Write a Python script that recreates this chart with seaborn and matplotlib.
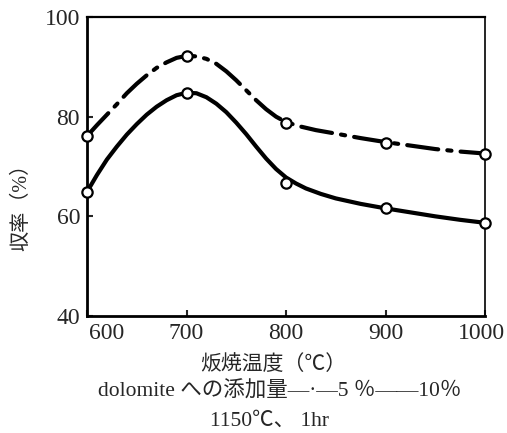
import matplotlib
matplotlib.use("Agg")
import matplotlib.pyplot as plt
import matplotlib.transforms as mtransforms
import seaborn as sns
import pandas as pd

# measured points
temps = [600, 700, 800, 900, 1000]
yield_5 = [76.1, 92.1, 78.8, 74.8, 72.6]
yield_10 = [64.9, 84.8, 66.7, 61.7, 58.7]

# smooth drawn curves
curve5_x = [600, 610, 620, 630, 640, 650, 660, 670, 680, 690, 700, 710, 720, 730, 740,
            750, 760, 770, 780, 790, 800, 815, 830, 850, 875, 900, 925, 950, 975, 1000]
curve5_y = [76.1, 78.3, 80.4, 82.5, 84.7, 86.6, 88.3, 89.8, 90.9, 91.8, 92.2, 92.1, 91.6,
            90.6, 89.1, 87.3, 85.3, 83.3, 81.5, 80.0, 78.9, 78.0, 77.3, 76.6, 75.7, 74.9,
            74.2, 73.5, 73.0, 72.6]
curve10_x = [600, 610, 620, 630, 640, 650, 660, 670, 680, 690, 700, 710, 720, 730, 740,
             750, 760, 770, 780, 790, 800, 810, 820, 835, 850, 875, 900, 925, 950, 975, 1000]
curve10_y = [64.9, 68.3, 71.4, 74.0, 76.4, 78.5, 80.4, 82.0, 83.3, 84.3, 84.8, 84.7, 83.9,
             82.6, 80.9, 78.8, 76.5, 74.0, 71.6, 69.5, 67.8, 66.6, 65.6, 64.5, 63.6, 62.5,
             61.6, 60.8, 60.0, 59.3, 58.7]

xticks = [600, 700, 800, 900, 1000]
yticks = [40, 60, 80, 100]

sns.set_theme(style="white")
plt.rcParams['font.family'] = ['Liberation Serif', 'Noto Sans CJK JP']

fig = plt.figure(figsize=(5.07, 4.33), dpi=100)
ax = fig.add_axes([87/507, 1-316/433, (485-87)/507, (316-17)/433])

c5 = pd.DataFrame({"x": curve5_x, "y": curve5_y})
c10 = pd.DataFrame({"x": curve10_x, "y": curve10_y})
sns.lineplot(data=c5, x="x", y="y", ax=ax, color="black", lw=3.0, sort=False,
             estimator=None, linestyle=(0, (7.5, 2.2, 1.0, 2.2)), clip_on=False,
             dash_capstyle="round", dash_joinstyle="round")
sns.lineplot(data=c10, x="x", y="y", ax=ax, color="black", lw=3.0, sort=False,
             estimator=None, clip_on=False, solid_joinstyle="round")

pts = pd.DataFrame({"x": temps + temps, "y": yield_5 + yield_10})
sns.scatterplot(data=pts, x="x", y="y", ax=ax, marker="o", s=55, facecolor="white",
                edgecolor="black", linewidth=1.6, zorder=5, clip_on=False)

ax.set_xlim(600, 1000)
ax.set_ylim(40, 100)
ax.set_xticks(xticks)
ax.set_yticks(yticks)
ax.set_xticklabels([str(t) for t in xticks], fontsize=17)
ax.set_yticklabels([str(t) for t in yticks], fontsize=17)
ax.tick_params(axis="both", direction="in", length=4, width=1.5, pad=5)
ax.tick_params(axis="y", left=True)
ax.tick_params(axis="x", bottom=True)
ax.set_xlabel("")
ax.set_ylabel("")

# shift the "600" and "1000" labels as in the reference
labs = ax.get_xticklabels()
labs[0].set_transform(labs[0].get_transform() + mtransforms.ScaledTranslation(20/100, 0, fig.dpi_scale_trans))
labs[-1].set_transform(labs[-1].get_transform() + mtransforms.ScaledTranslation(-4/100, 0, fig.dpi_scale_trans))

for side, w in [("left", 2.0), ("bottom", 2.0), ("top", 1.6), ("right", 1.2)]:
    ax.spines[side].set_visible(True)
    ax.spines[side].set_color("black")
    ax.spines[side].set_linewidth(w)

fam = ['Liberation Serif', 'Noto Sans CJK JP']
fig.text(22/507, 1-202/433, "収率（%）", rotation=90, ha="center", va="center",
         fontsize=14.5, family=fam)
fig.text(273/507, 1-364/433, "炍焼温度（℃）", ha="center", va="center",
         fontsize=15, family=['Noto Sans CJK JP'])
fig.text(280/507, 1-392/433, "dolomite への添加量—·—5 ％——10％", ha="center", va="center",
         fontsize=15.5, family=fam)
fig.text(270/507, 1-421/433, "1150℃、 1hr", ha="center", va="center",
         fontsize=15.5, family=fam)

fig.savefig("out.png", dpi=100)
